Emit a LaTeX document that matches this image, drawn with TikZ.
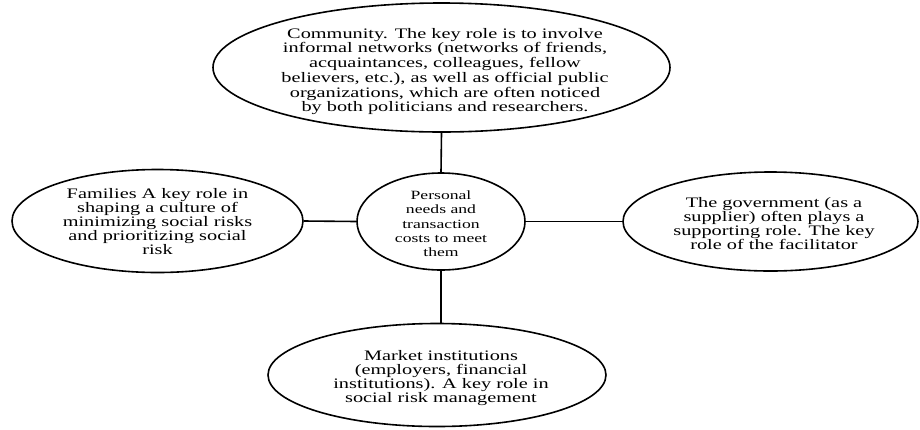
\documentclass[tikz,border=0pt]{standalone}
\usepackage{fontspec}
\setmainfont{Liberation Serif}[FakeStretch=1.4]
\usetikzlibrary{shapes.geometric}
\begin{document}
\begin{tikzpicture}[x=1pt,y=-1pt,
  oval/.style={draw, ellipse, line width=1.6pt, inner sep=0pt},
  txt/.style={align=center, inner sep=0pt, font=\fontsize{14.5}{14.1}\selectfont},
  link/.style={line width=1.6pt}]
\useasboundingbox (0,0) rectangle (920,429);
\node[oval, minimum width=457, minimum height=129] (top) at (441.5,67.5) {};
\node[oval, minimum width=168, minimum height=97] (mid) at (441,221.5) {};
\node[oval, minimum width=291, minimum height=103] (left) at (157.5,221) {};
\node[oval, minimum width=295, minimum height=99] (right) at (770.5,221.5) {};
\node[oval, minimum width=338, minimum height=103] (bot) at (437,375) {};
\node[txt, font=\fontsize{14.5}{14.7}\selectfont] (toptxt) at (445,71.5) {Community. The key role is to involve\\informal networks (networks of friends,\\acquaintances, colleagues, fellow\\believers, etc.), as well as official public\\organizations, which are often noticed\\by both politicians and researchers.};
\node[txt, font=\fontsize{12.6}{14.2}\selectfont] (midtxt) at (441,223.7) {Personal\\needs and\\transaction\\costs to meet\\them};
\node[txt, font=\fontsize{14.5}{13.8}\selectfont] (lefttxt) at (157.5,221.5) {Families A key role in\\shaping a culture of\\minimizing social risks\\and prioritizing social\\risk};
\node[txt] (righttxt) at (774,223.5) {The government (as a\\supplier) often plays a\\supporting role. The key\\role of the facilitator};
\node[txt] (bottxt) at (441,377.7) {Market institutions\\(employers, financial\\institutions). A key role in\\social risk management};
\draw[link] (mid.north) -- (top.south);
\draw[link] (mid.south) -- (mid.south |- bot.north);
\draw[link] (mid.west) -- (left.east);
\draw[link] (mid.east) -- (right.west);
\end{tikzpicture}
\end{document}
